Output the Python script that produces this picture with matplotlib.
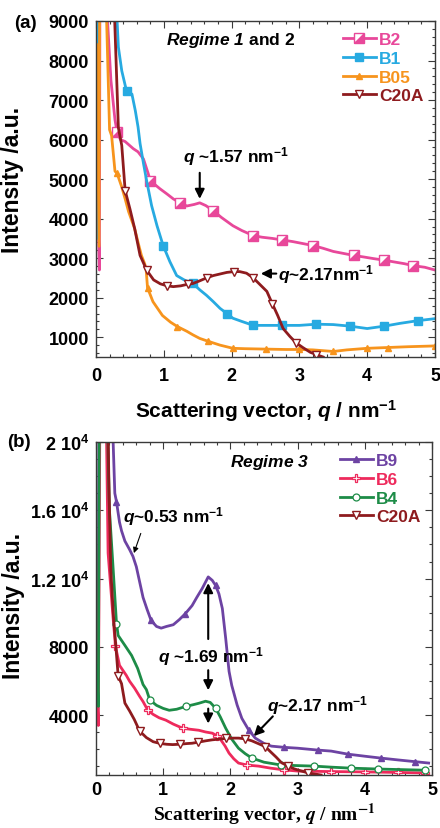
import numpy as np
import matplotlib
matplotlib.use("Agg")
import matplotlib.pyplot as plt
from matplotlib.markers import MarkerStyle
from matplotlib.transforms import Affine2D
from matplotlib.ticker import MultipleLocator, FuncFormatter

plt.rcParams['font.family'] = ['Liberation Sans', 'DejaVu Sans']
plt.rcParams['font.weight'] = 'bold'
plt.rcParams['axes.labelweight'] = 'bold'
plt.rcParams['mathtext.fontset'] = 'custom'
plt.rcParams['mathtext.rm'] = 'Liberation Sans:bold'
plt.rcParams['mathtext.bf'] = 'Liberation Sans:bold'
plt.rcParams['mathtext.it'] = 'Liberation Sans:italic:bold'
plt.rcParams['mathtext.bfit'] = 'Liberation Sans:italic:bold'

# ---- (a) Regime 1 and 2 ----
q_b2 = np.array([0.005, 0.03, 0.05, 0.08, 0.15, 0.17, 0.22, 0.28, 0.31, 0.36, 0.43, 0.55,
                 0.62, 0.7, 0.77, 0.8, 0.94, 1.05, 1.14, 1.24, 1.34, 1.45, 1.53, 1.62, 1.73,
                 1.85, 2.02, 2.15, 2.32, 2.45, 2.6, 2.75, 2.9, 3.05, 3.2, 3.35, 3.5, 3.65,
                 3.8, 3.95, 4.09, 4.25, 4.38, 4.55, 4.68, 4.85, 5.0])
i_b2 = np.array([6200, 4000, 2700, 30000, 20000, 9000, 7500, 6500, 6200, 6000, 5950, 5770,
                 5690, 5510, 5140, 4960, 4760, 4620, 4500, 4400, 4320, 4360, 4400, 4330, 4200,
                 4030, 3820, 3700, 3570, 3530, 3500, 3460, 3420, 3370, 3320, 3250, 3170, 3120,
                 3070, 3030, 2990, 2950, 2910, 2860, 2810, 2770, 2700])

q_b1 = np.array([0.005, 0.03, 0.06, 0.25, 0.3, 0.33, 0.38, 0.45, 0.53, 0.58, 0.62, 0.65,
                 0.7, 0.75, 0.82, 0.9, 0.99, 1.09, 1.19, 1.3, 1.43, 1.53, 1.63, 1.73, 1.83,
                 1.93, 2.02, 2.15, 2.32, 2.5, 2.75, 3.0, 3.25, 3.5, 3.75, 4.0, 4.25, 4.48,
                 4.75, 5.0])
i_b1 = np.array([30000, 3500, 30000, 30000, 9400, 8340, 7740, 7230, 7150, 6730, 6320, 5900,
                 5400, 4930, 4330, 3820, 3320, 2910, 2560, 2450, 2360, 2200, 2060, 1900, 1730,
                 1600, 1480, 1400, 1300, 1300, 1300, 1300, 1330, 1320, 1280, 1220, 1280, 1350,
                 1420, 1470])

q_b05 = np.array([0.01, 0.045, 0.08, 0.13, 0.157, 0.2, 0.23, 0.28, 0.31, 0.38, 0.43, 0.48,
                  0.57, 0.62, 0.67, 0.72, 0.74, 0.76, 0.84, 0.9, 0.98, 1.1, 1.2, 1.34, 1.43,
                  1.53, 1.65, 1.83, 2.02, 2.2, 2.5, 2.8, 3.0, 3.2, 3.5, 3.7, 4.0, 4.3, 4.6,
                  5.0])
i_b05 = np.array([8400, 3300, 30000, 15000, 9000, 6250, 6100, 5200, 5150, 4800, 4500, 4180,
                  3750, 3400, 3070, 2850, 2700, 2250, 1900, 1750, 1550, 1380, 1270, 1150,
                  1060, 970, 900, 800, 720, 710, 700, 690, 690, 680, 640, 680, 720, 740, 760,
                  780])

q_c20a = np.array([0.15, 0.19, 0.22, 0.26, 0.29, 0.33, 0.38, 0.43, 0.5, 0.57, 0.65, 0.75,
                   0.85, 0.95, 1.05, 1.14, 1.25, 1.35, 1.43, 1.52, 1.63, 1.73, 1.83, 1.93,
                   2.03, 2.12, 2.22, 2.32, 2.42, 2.52, 2.6, 2.68, 2.76, 2.86, 2.95, 3.05,
                   3.16, 3.25, 3.35])
i_c20a = np.array([30000, 18000, 12500, 9800, 8300, 6300, 5850, 4710, 4250, 3750, 3070, 2690,
                   2450, 2350, 2300, 2280, 2300, 2340, 2360, 2420, 2500, 2560, 2600, 2640,
                   2660, 2660, 2620, 2500, 2330, 2160, 1850, 1550, 1220, 1020, 860, 740, 620,
                   560, 500])

# ---- (b) Regime 3 ----
q_b9 = np.array([0.005, 0.03, 0.06, 0.2, 0.255, 0.28, 0.305, 0.35, 0.38, 0.43, 0.5, 0.55,
                 0.6, 0.7, 0.76, 0.82, 0.9, 0.97, 1.05, 1.15, 1.24, 1.33, 1.43, 1.5, 1.58,
                 1.67, 1.73, 1.78, 1.83, 1.88, 1.93, 1.98, 2.02, 2.1, 2.17, 2.27, 2.37, 2.5,
                 2.61, 2.8, 3.0, 3.3, 3.5, 3.75, 4.0, 4.24, 4.5, 4.75, 4.95])
i_b9 = np.array([9700, 6600, 40000, 40000, 20000, 17000, 16500, 15300, 14800, 14200, 13700,
                 13300, 12700, 10900, 10200, 9550, 9200, 9100, 9200, 9300, 9600, 9950, 10420,
                 10900, 11420, 12100, 11900, 11600, 11100, 10250, 8500, 6570, 5750, 4600,
                 3820, 3150, 2660, 2350, 2190, 2120, 2070, 1960, 1900, 1720, 1600, 1490, 1380,
                 1280, 1200])

q_b6 = np.array([0.005, 0.035, 0.08, 0.14, 0.18, 0.255, 0.29, 0.35, 0.45, 0.5, 0.575, 0.65,
                 0.7, 0.77, 0.85, 0.94, 1.04, 1.15, 1.29, 1.4, 1.53, 1.63, 1.73, 1.8, 1.85,
                 1.92, 1.98, 2.05, 2.12, 2.25, 2.42, 2.6, 2.8, 3.0, 3.5, 4.0, 4.5, 4.9])
i_b6 = np.array([5750, 3400, 40000, 25000, 13500, 9660, 8030, 6920, 6340, 5990, 5580, 5100,
                 4800, 4300, 4050, 3850, 3710, 3480, 3240, 3180, 3120, 3020, 2950, 2800, 2600,
                 2200, 1780, 1450, 1200, 1080, 1020, 900, 800, 730, 700, 680, 650, 620])

q_b4 = np.array([0.005, 0.035, 0.065, 0.12, 0.2, 0.255, 0.305, 0.33, 0.43, 0.53, 0.62, 0.7,
                 0.75, 0.8, 0.9, 1.0, 1.09, 1.2, 1.34, 1.45, 1.53, 1.63, 1.7, 1.78, 1.85,
                 1.93, 2.02, 2.12, 2.22, 2.32, 2.5, 2.76, 3.0, 3.25, 3.5, 3.8, 4.2, 4.5, 4.9])
i_b4 = np.array([6900, 4520, 40000, 30000, 16000, 12580, 9370, 8670, 8090, 7500, 6740, 5800,
                 5500, 4900, 4580, 4400, 4290, 4350, 4520, 4620, 4700, 4820, 4750, 4410, 3900,
                 3240, 2600, 2070, 1750, 1490, 1250, 1080, 1050, 1020, 960, 900, 850, 820,
                 780])

c_b2, c_b1, c_b05, c_c20a = '#e8489a', '#27aae1', '#f7941d', '#8e1b1e'
c_b9, c_b6, c_b4 = '#6d43a3', '#ee2a5c', '#1d8c47'


def marks(q, start, step):
    targets = np.arange(start, q.max() + 1e-9, step)
    return sorted({int(np.abs(q - t).argmin()) for t in targets})


def style_axes(ax, xpad):
    for s in ax.spines.values():
        s.set_color('#3a3a3a')
        s.set_linewidth(1.0)
    ax.tick_params(which='both', direction='in', top=True, right=True,
                   color='#3a3a3a', width=0.8, labelsize=13, pad=5)
    ax.tick_params(axis='x', which='major', pad=xpad)
    ax.tick_params(which='major', length=5)
    ax.tick_params(which='minor', length=2.5)
    ax.xaxis.set_major_locator(MultipleLocator(1))
    ax.xaxis.set_minor_locator(MultipleLocator(0.2))
    ax.set_xlim(0, 5)


fig = plt.figure(figsize=(4.4, 8.29), dpi=100)
ax1 = fig.add_axes([96 / 440, 1 - 358 / 829, 339 / 440, 336 / 829])
ax2 = fig.add_axes([96 / 440, 1 - 776 / 829, 336 / 440, 333 / 829])

half_sq = MarkerStyle('D', fillstyle='bottom', transform=Affine2D().rotate_deg(45))
lw = 2.0
leg_kw = dict(loc='upper right', bbox_to_anchor=(1.0, 1.0), frameon=False, numpoints=1,
              prop={'weight': 'bold', 'size': 12.5}, labelcolor='linecolor',
              handlelength=1.9, handletextpad=0.2, labelspacing=0.2,
              borderaxespad=0.3, borderpad=0.35)

ax1.plot(q_b2, i_b2, color=c_b2, lw=lw, marker=half_sq, ms=7, mfc=c_b2,
         mfcalt='white', mec=c_b2, markevery=marks(q_b2, 0.31, 0.49), label='B2')
ax1.plot(q_b1, i_b1, color=c_b1, lw=lw, marker='s', ms=6, mfc=c_b1, mec=c_b1,
         markevery=marks(q_b1, 0.48, 0.47), label='B1')
ax1.plot(q_b05, i_b05, color=c_b05, lw=lw, marker='^', ms=5, mfc=c_b05, mec=c_b05,
         markevery=marks(q_b05, 0.31, 0.45), label='B05')
ax1.plot(q_c20a, i_c20a, color=c_c20a, lw=lw, marker='v', ms=6, mfc='white', mec=c_c20a,
         markevery=marks(q_c20a, 0.43, 0.31), label='C20A')

style_axes(ax1, 7)
ax1.set_ylim(500, 9000)
ax1.yaxis.set_major_locator(MultipleLocator(1000))
ax1.yaxis.set_minor_locator(MultipleLocator(200))
ax1.yaxis.set_major_formatter(FuncFormatter(lambda v, p: f'{v:.0f}'))
ax1.set_xlabel(r'Scattering vector, $\mathbfit{q}$ / nm$^{\mathbf{-1}}$', fontsize=15)
ax1.xaxis.set_label_coords(0.5, -0.118)
ax1.set_ylabel('Intensity /a.u.', fontsize=16.5)
ax1.yaxis.set_label_coords(-0.212, 0.53)
ax1.legend(**leg_kw)

ax1.text(0.398, 0.946, r'$\mathbfit{Regime\ 1}$ and 2', transform=ax1.transAxes,
         ha='center', va='center', fontsize=12.5)
ax1.annotate('', xy=(1.53, 4430), xytext=(1.53, 5230),
             arrowprops=dict(arrowstyle='-|>', color='black', lw=1.5, mutation_scale=14))
ax1.text(1.28, 5600, r'$\mathbfit{q}$ ~1.57 nm$^{\mathbf{-1}}$', ha='left',
         va='center', fontsize=12.5)
ax1.annotate('', xy=(2.39, 2610), xytext=(2.7, 2610),
             arrowprops=dict(arrowstyle='-|>', color='black', lw=1.5, mutation_scale=14))
ax1.text(2.68, 2610, r'$\mathbfit{q}$~2.17nm$^{\mathbf{-1}}$', ha='left', va='center',
         fontsize=12.5)

ax2.plot(q_b9, i_b9, color=c_b9, lw=lw, marker='^', ms=5, mfc=c_b9, mec=c_b9,
         markevery=marks(q_b9, 0.3, 0.5), label='B9')
ax2.plot(q_b6, i_b6, color=c_b6, lw=lw, marker='P', ms=6, mfc='white', mec=c_b6, mew=0.9,
         markevery=marks(q_b6, 0.29, 0.5), label='B6')
ax2.plot(q_b4, i_b4, color=c_b4, lw=lw, marker='o', ms=5, mfc='white', mec=c_b4, mew=0.9,
         markevery=marks(q_b4, 0.305, 0.5), label='B4')
ax2.plot(q_c20a, i_c20a, color=c_c20a, lw=lw, marker='v', ms=6, mfc='white', mec=c_c20a,
         markevery=marks(q_c20a, 0.33, 0.31), label='C20A')

style_axes(ax2, 4)
ax2.set_ylim(500, 20000)
ax2.yaxis.set_major_locator(MultipleLocator(4000))
ax2.yaxis.set_minor_locator(MultipleLocator(1000))


def sci_label(v, pos):
    if v >= 10000:
        return f'{v / 1e4:g} 10' + r'$^{\mathbf{4}}$'
    return f'{v:.0f}'


ax2.yaxis.set_major_formatter(FuncFormatter(sci_label))
ax2.set_ylabel('Intensity /a.u.', fontsize=16.5)
ax2.yaxis.set_label_coords(-0.212, 0.51)
ax2.legend(**leg_kw)

ax2.text(0.516, 0.94, r'$\mathbfit{Regime\ 3}$', transform=ax2.transAxes,
         ha='center', va='center', fontsize=12.5)
ax2.annotate('', xy=(0.55, 13340), xytext=(0.68, 14800),
             arrowprops=dict(arrowstyle='-|>', color='black', lw=0.8, mutation_scale=8))
ax2.text(1.15, 15700, r'$\mathbfit{q}$~0.53 nm$^{\mathbf{-1}}$', ha='center', va='center',
         fontsize=12.5)
ax2.annotate('', xy=(1.67, 11900), xytext=(1.67, 8300),
             arrowprops=dict(arrowstyle='-|>', color='black', lw=1.5, mutation_scale=14))
ax2.text(1.71, 7500, r'$\mathbfit{q}$ ~1.69 nm$^{\mathbf{-1}}$', ha='center', va='center',
         fontsize=12.5)
ax2.annotate('', xy=(1.67, 5300), xytext=(1.67, 6800),
             arrowprops=dict(arrowstyle='-|>', color='black', lw=1.5, mutation_scale=14))
ax2.annotate('', xy=(1.67, 3350), xytext=(1.67, 4550),
             arrowprops=dict(arrowstyle='-|>', color='black', lw=1.5, mutation_scale=14))
ax2.annotate('', xy=(2.32, 2660), xytext=(2.66, 4050),
             arrowprops=dict(arrowstyle='-|>', color='black', lw=1.5, mutation_scale=14))
ax2.text(3.3, 4600, r'$\mathbfit{q}$~2.17 nm$^{\mathbf{-1}}$', ha='center', va='center',
         fontsize=12.5)

fig.text(264 / 440, 1 / 829,
         r'Scattering vector, $\mathbfit{q}$ / nm$^{\mathbf{-1}}$',
         family=['Liberation Serif', 'DejaVu Serif'], math_fontfamily='stix',
         fontsize=14, ha='center', va='bottom')

fig.text(25 / 440, 1 - 24 / 829, '(a)', fontsize=13.5, ha='center', va='center')
fig.text(19 / 440, 1 - 443 / 829, '(b)', fontsize=13.5, ha='center', va='center')

fig.savefig('out.png', dpi=100)
